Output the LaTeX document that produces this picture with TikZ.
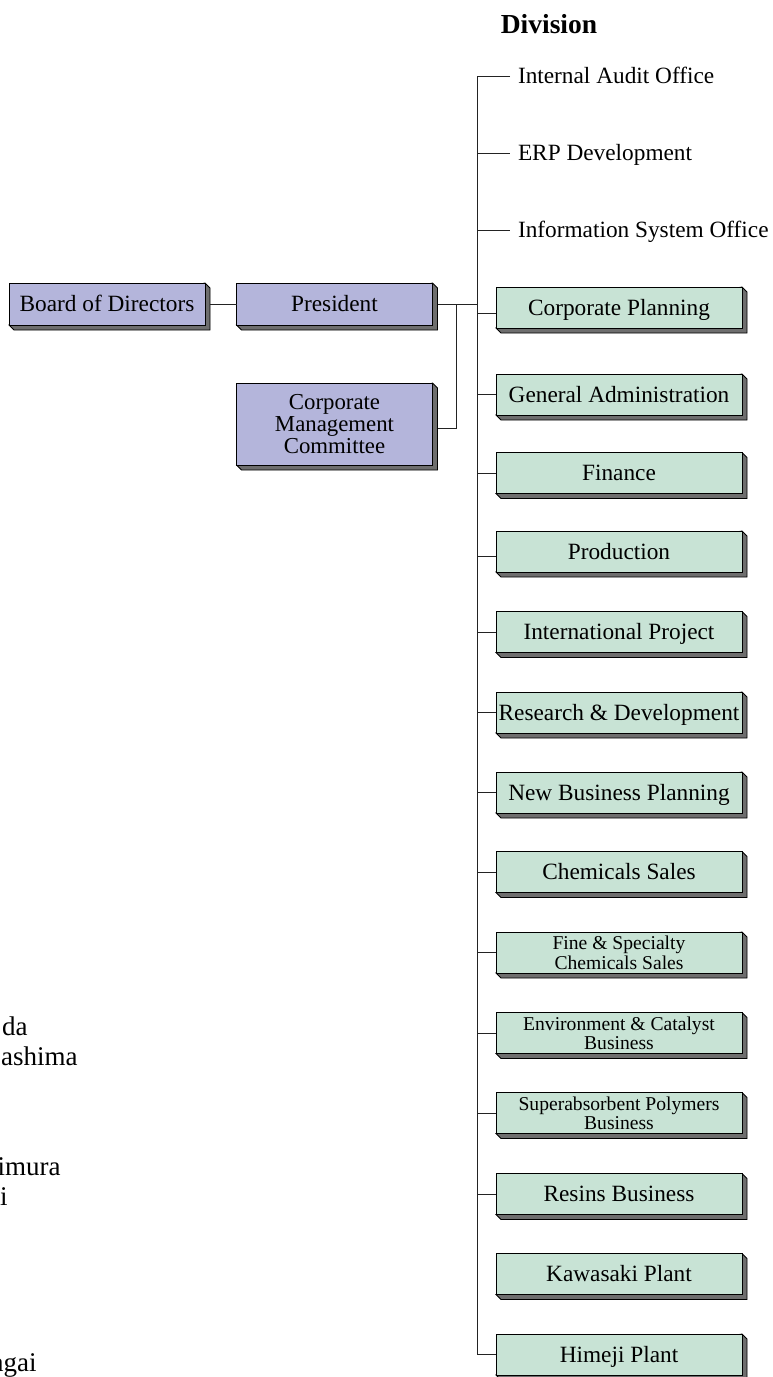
\documentclass[tikz,border=0pt]{standalone}
\usepackage{fontspec}
\setmainfont{Liberation Serif}
\usetikzlibrary{backgrounds}
\definecolor{cPurple}{RGB}{180,181,219}
\definecolor{cGreen}{RGB}{200,227,213}
\definecolor{cShadow}{RGB}{110,110,110}
\definecolor{cLine}{RGB}{35,35,35}
\tikzset{
  boxbase/.style={draw=black, line width=0.5pt, inner sep=0pt, outer sep=0pt, align=center},
  pbox/.style={boxbase, fill=cPurple, minimum width=98pt, minimum height=21pt},
  gbox/.style={boxbase, fill=cGreen, minimum width=123pt, minimum height=20.5pt},
  onel/.style={font=\fontsize{11.65}{10}\selectfont, text height=7.7pt, text depth=0pt},
  twol/.style={font=\fontsize{9.8}{8.5}\selectfont},
  lbl/.style={onel, inner sep=0pt, outer sep=0pt, anchor=west},
  frag/.style={font=\fontsize{13.5}{14}\selectfont, inner sep=0pt, anchor=base east},
  conn/.style={draw=cLine, line width=0.5pt},
  shadowpoly/.style={fill=cShadow, draw=black, line width=0.4pt}
}
\begin{document}
\begin{tikzpicture}[x=0.5pt, y=-0.5pt]
\useasboundingbox (0,0) rectangle (772,1377);
\clip (0,0) rectangle (772,1377);

% title
\node[font=\fontsize{13.75}{14}\selectfont\bfseries, anchor=base, inner sep=0pt] (div) at (549,33) {Division};

% top-level boxes
\node[pbox, onel] (board) at (107,304) {Board of Directors};
\node[pbox, onel] (pres) at (334.5,304) {President};
\node[pbox, minimum height=41pt, font=\fontsize{11.4}{9.75}\selectfont] (cmc) at (334.5,424) {Corporate\\Management\\Committee};

% plain labels
\node[lbl] (iao) at (518,76) {Internal Audit Office};
\node[lbl] (erp) at (518,153) {ERP Development};
\node[lbl] (iso) at (518,230) {Information System Office};

% division boxes
\node[gbox, onel] (cp)   at (619,307.5) {Corporate Planning};
\node[gbox, onel] (ga)   at (619,394.5) {General Administration};
\node[gbox, onel] (fin)  at (619,473)   {Finance};
\node[gbox, onel] (prod) at (619,551.5) {Production};
\node[gbox, onel] (ip)   at (619,632)   {International Project};
\node[gbox, onel] (rd)   at (619,712.5) {Research \& Development};
\node[gbox, onel] (nbp)  at (619,792.5) {New Business Planning};
\node[gbox, onel] (cs)   at (619,872)   {Chemicals Sales};
\node[gbox, twol] (fine) at (619,952.5) {Fine \& Specialty\\Chemicals Sales};
\node[gbox, twol] (env)  at (619,1033)  {Environment \& Catalyst\\Business};
\node[gbox, twol] (sap)  at (619,1113)  {Superabsorbent Polymers\\Business};
\node[gbox, onel] (res)  at (619,1194)  {Resins Business};
\node[gbox, onel] (kaw)  at (619,1274)  {Kawasaki Plant};
\node[gbox, onel] (him)  at (619,1354.5) {Himeji Plant};

% shadows
\begin{scope}[on background layer]
\foreach \n in {board,pres,cmc,cp,ga,fin,prod,ip,rd,nbp,cs,fine,env,sap,res,kaw,him} {
  \path[shadowpoly] (\n.north east) -- ([xshift=2.5pt,yshift=-2.5pt]\n.north east)
    -- ([xshift=2.5pt,yshift=-2.5pt]\n.south east)
    -- ([xshift=2.5pt,yshift=-2.5pt]\n.south west) -- (\n.south west) -- cycle;
}
\end{scope}

% connectors
\coordinate (ttop) at (477,76);
\coordinate (pj) at (456,304);
\draw[conn] ([xshift=-4pt]iao.west) -- (ttop) |- (him.west);
\draw[conn] (erp.west -| ttop) -- ([xshift=-4pt]erp.west);
\draw[conn] (iso.west -| ttop) -- ([xshift=-4pt]iso.west);
\draw[conn] ([yshift=-2.75pt]cp.west -| ttop) -- ([yshift=-2.75pt]cp.west);
\draw[conn] ([yshift=-2.25pt]prod.west -| ttop) -- ([yshift=-2.25pt]prod.west);
\foreach \n in {ga,fin,ip,rd,nbp,cs,fine,env,sap,res} {
  \draw[conn] (\n.west -| ttop) -- (\n.west);
}
\draw[conn] ([xshift=2.5pt]board.east) -- (pres.west);
\draw[conn] ([xshift=2.5pt]pres.east) -- (pres.east -| ttop);
\draw[conn] (pj) |- ([xshift=2.5pt,yshift=-2pt]cmc.east);

% cut-off names at the left edge
\node[frag] (f1) at (28,1035) {da};
\node[frag] (f2) at (78,1065) {ashima};
\node[frag] (f3) at (61,1175) {imura};
\node[frag] (f4) at (8,1205) {i};
\node[frag] (f5) at (37,1371) {agai};
\end{tikzpicture}
\end{document}
